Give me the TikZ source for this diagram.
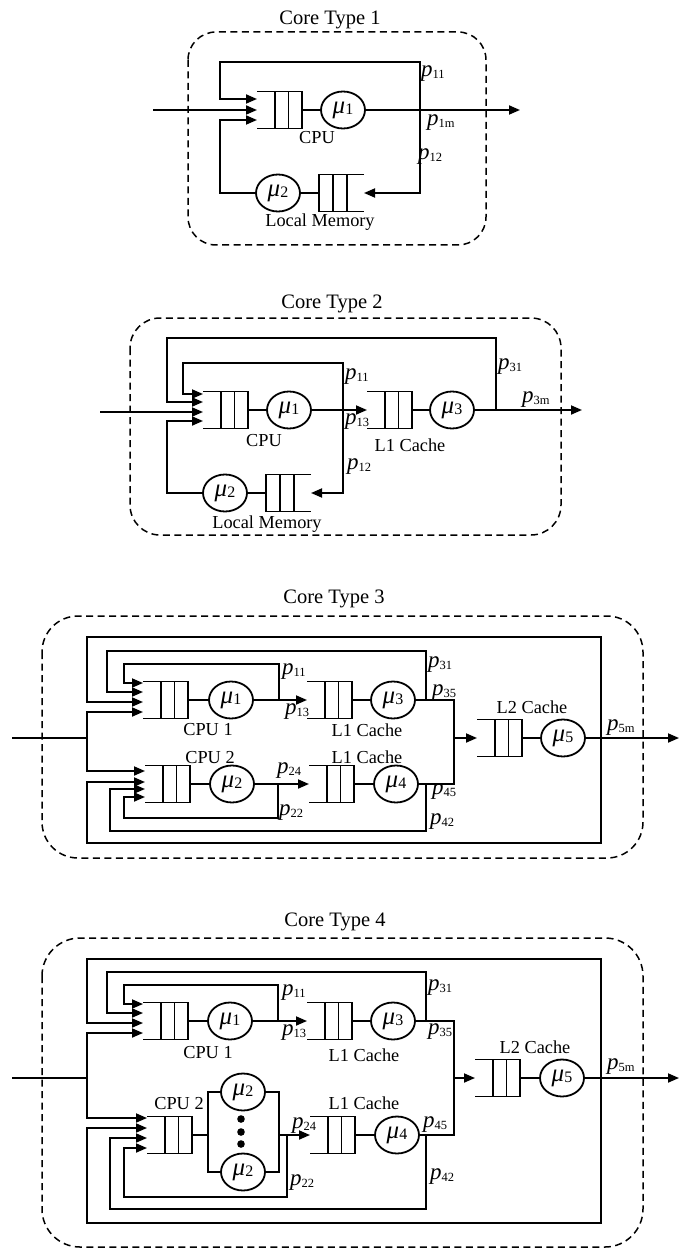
\documentclass[tikz,border=0pt]{standalone}
\usepackage{fontspec}
\setmainfont{Liberation Serif}
\usetikzlibrary{arrows.meta,shapes.geometric,calc}

\newcommand\PLab[1]{{\fontsize{23}{23}\selectfont\textit{p}}\raisebox{-2pt}{\fontsize{12.5}{12.5}\selectfont #1}}
\newcommand\MuLab[1]{{\fontsize{25}{25}\selectfont\textit{μ}}\raisebox{-1pt}{\fontsize{16}{16}\selectfont #1}}

% queue open on the left, closed on the right: name, left x, centre y
\newcommand\QueueOL[3]{%
  \node[qbox] (#1) at (#2+22.5,#3) {};
  \draw[qline] (#1.north west) -- (#1.north east) -- (#1.south east) -- (#1.south west);
  \draw[qline] ([xshift=-13.5pt]#1.north east) -- ([xshift=-13.5pt]#1.south east);
  \draw[qline] ([xshift=-27pt]#1.north east) -- ([xshift=-27pt]#1.south east);
}
% queue open on the right, closed on the left
\newcommand\QueueOR[3]{%
  \node[qbox] (#1) at (#2+22.5,#3) {};
  \draw[qline] (#1.north east) -- (#1.north west) -- (#1.south west) -- (#1.south east);
  \draw[qline] ([xshift=14pt]#1.north west) -- ([xshift=14pt]#1.south west);
  \draw[qline] ([xshift=28pt]#1.north west) -- ([xshift=28pt]#1.south west);
}

\tikzset{
  ln/.style={line width=1.8pt},
  arr/.style={ln, -{Triangle[length=11pt,width=9pt]}},
  qline/.style={line width=1.8pt},
  qbox/.style={inner sep=0pt, outer sep=0pt, minimum width=45pt, minimum height=37pt},
  srv/.style={draw, ellipse, line width=1.8pt, minimum width=44pt, minimum height=37pt, inner sep=0pt},
  plab/.style={anchor=west, inner sep=0pt},
  lab/.style={anchor=base, inner sep=0pt, font=\fontsize{18.3}{20}\selectfont},
  ttl/.style={anchor=base, inner sep=0pt, font=\fontsize{20.5}{22}\selectfont},
  dbox/.style={draw, dash pattern=on 7pt off 4.5pt, line width=1.5pt, rounded corners=#1},
  dot/.style={fill=black},
}

\begin{document}
\begin{tikzpicture}[x=1pt,y=-1pt]
\useasboundingbox (0,0) rectangle (679,1249);

%================ Core Type 1 ================
\draw[dbox=28pt] (188,32) rectangle (486,245);
\node[ttl] (t1) at (330,25) {Core Type 1};
\QueueOL{q1a}{257}{110}
\node[srv] (s1a) at (343,110) {\MuLab{1}};
\QueueOR{q1b}{319}{193}
\node[srv] (s1b) at (278,193) {\MuLab{2}};
\coordinate (i1) at (153,110);
\coordinate (o1) at (520,110);
\coordinate (j1) at (420,110);
\draw[ln] (q1a.east) -- (s1a.west);
\draw[arr] (s1a.east) -- (o1);
\draw[arr] (i1) -- (q1a.west);
\draw[arr] (j1) |- (220,62) |- ($(q1a.west)+(0,-11)$);
\draw[arr] (j1) |- (q1b.east);
\draw[ln] (q1b.west) -- (s1b.east);
\draw[arr] (s1b.west) -| (220,150) |- ($(q1a.west)+(0,10)$);
\node[plab] (p1a) at (421,74) {\PLab{11}};
\node[plab] (p1b) at (427,123) {\PLab{1m}};
\node[plab] (p1c) at (418,157) {\PLab{12}};
\node[lab] (c1a) at (317,144) {CPU};
\node[lab] (c1b) at (320,227) {Local Memory};

%================ Core Type 2 ================
\draw[dbox=30pt] (130,318) rectangle (561,535);
\node[ttl] (t2) at (332,308) {Core Type 2};
\QueueOL{q2a}{203}{410}
\node[srv] (s2a) at (289,410) {\MuLab{1}};
\QueueOL{q2c}{367}{410}
\node[srv] (s2c) at (452,410) {\MuLab{3}};
\QueueOR{q2b}{266}{493}
\node[srv] (s2b) at (225,493) {\MuLab{2}};
\coordinate (i2) at (100,412);
\coordinate (o2) at (582,410);
\coordinate (j2a) at (343,410);
\coordinate (j2c) at (496,410);
\draw[ln] (q2a.east) -- (s2a.west);
\draw[arr] (s2a.east) -- (q2c.west);
\draw[ln] (q2c.east) -- (s2c.west);
\draw[arr] (s2c.east) -- (o2);
\draw[arr] (i2) -- ($(q2a.west)+(0,2)$);
\draw[arr] (j2a) |- (183,363) |- ($(q2a.west)+(0,-16)$);
\draw[arr] (j2c) |- (167,338) |- ($(q2a.west)+(0,-8)$);
\draw[arr] (j2a) |- (q2b.east);
\draw[ln] (q2b.west) -- (s2b.east);
\draw[arr] (s2b.west) -| (167,460) |- ($(q2a.west)+(0,11)$);
\node[plab] (p2a) at (345,377) {\PLab{11}};
\node[plab] (p2b) at (345,422) {\PLab{13}};
\node[plab] (p2c) at (347,467) {\PLab{12}};
\node[plab] (p2d) at (498,367) {\PLab{31}};
\node[plab] (p2e) at (522,400) {\PLab{3m}};
\node[lab] (c2a) at (264,446) {CPU};
\node[lab] (c2b) at (410,451) {L1 Cache};
\node[lab] (c2c) at (267,528) {Local Memory};

%================ Core Type 3 ================
\draw[dbox=36pt] (42,616) rectangle (643,858);
\node[ttl] (t3) at (334,603) {Core Type 3};
\QueueOL{q3a}{143}{700}
\node[srv] (s3a) at (231,700) {\MuLab{1}};
\QueueOL{q3c}{307}{700}
\node[srv] (s3c) at (393,700) {\MuLab{3}};
\QueueOL{q3b}{145}{784}
\node[srv] (s3b) at (232,784) {\MuLab{2}};
\QueueOL{q3d}{309}{784}
\node[srv] (s3d) at (396,784) {\MuLab{4}};
\QueueOL{q3e}{477}{738}
\node[srv] (s3e) at (563,738) {\MuLab{5}};
\coordinate (i3) at (12,738);
\coordinate (ji3) at (87,738);
\coordinate (o3) at (679,738);
\coordinate (j3a) at (279,700);
\coordinate (j3c) at (426,700);
\coordinate (r3a) at (454,700);
\coordinate (j3b) at (278,784);
\coordinate (j3d) at (426,784);
\coordinate (r3b) at (454,784);
\coordinate (m3) at (454,738);
\coordinate (j3e) at (601,738);
\draw[ln] (q3a.east) -- (s3a.west);
\draw[arr] (s3a.east) -- (q3c.west);
\draw[ln] (q3c.east) -- (s3c.west);
\draw[ln] (q3b.east) -- (s3b.west);
\draw[arr] (s3b.east) -- (q3d.west);
\draw[ln] (q3d.east) -- (s3d.west);
\draw[ln] (s3c.east) -- (r3a) -- (r3b) -- (s3d.east);
\draw[arr] (m3) -- (q3e.west);
\draw[ln] (q3e.east) -- (s3e.west);
\draw[arr] (s3e.east) -- (o3);
\draw[ln] (i3) -- (ji3);
\draw[arr] (j3a) |- (124,664) |- ($(q3a.west)+(0,-17)$);
\draw[arr] (j3c) |- (107,651) |- ($(q3a.west)+(0,-8)$);
\draw[arr] (j3e) |- (87,637) |- ($(q3a.west)+(0,2)$);
\draw[arr] (ji3) |- ($(q3a.west)+(0,12)$);
\draw[arr] (ji3) |- ($(q3b.west)+(0,-13)$);
\draw[arr] (j3e) |- (87,843) |- ($(q3b.west)+(0,-2)$);
\draw[arr] (j3d) |- (110,831) |- ($(q3b.west)+(0,5)$);
\draw[arr] (j3b) |- (124,818) |- ($(q3b.west)+(0,13)$);
\node[plab] (p3a) at (282,672) {\PLab{11}};
\node[plab] (p3b) at (285,712) {\PLab{13}};
\node[plab] (p3c) at (277,771) {\PLab{24}};
\node[plab] (p3d) at (279,813) {\PLab{22}};
\node[plab] (p3e) at (428,665) {\PLab{31}};
\node[plab] (p3f) at (432,693) {\PLab{35}};
\node[plab] (p3g) at (432,792) {\PLab{45}};
\node[plab] (p3h) at (430,822) {\PLab{42}};
\node[plab] (p3i) at (607,728) {\PLab{5m}};
\node[lab] (c3a) at (208,735) {CPU 1};
\node[lab] (c3b) at (210,763) {CPU 2};
\node[lab] (c3c) at (367,736) {L1 Cache};
\node[lab] (c3d) at (367,763) {L1 Cache};
\node[lab] (c3e) at (532,713) {L2 Cache};

%================ Core Type 4 ================
\draw[dbox=38pt] (42,938) rectangle (643,1247);
\node[ttl] (t4) at (335,926) {Core Type 4};
\QueueOL{q4a}{143}{1021}
\node[srv] (s4a) at (230,1021) {\MuLab{1}};
\QueueOL{q4c}{307}{1021}
\node[srv] (s4c) at (393,1021) {\MuLab{3}};
\QueueOL{q4b}{147}{1135}
\node[srv] (s4b1) at (243,1092) {\MuLab{2}};
\node[srv] (s4b2) at (243,1172) {\MuLab{2}};
\QueueOL{q4d}{310}{1135}
\node[srv] (s4d) at (397,1135) {\MuLab{4}};
\QueueOL{q4e}{475}{1078}
\node[srv] (s4e) at (562,1078) {\MuLab{5}};
\fill[dot] (241,1119) circle[radius=3.8pt];
\fill[dot] (241,1132) circle[radius=3.8pt];
\fill[dot] (241,1144) circle[radius=3.8pt];
\coordinate (i4) at (12,1078);
\coordinate (ji4) at (87,1078);
\coordinate (o4) at (679,1078);
\coordinate (j4a) at (278,1021);
\coordinate (j4c) at (426,1021);
\coordinate (r4a) at (454,1021);
\coordinate (pl4) at (208,1135);
\coordinate (pr4) at (279,1135);
\coordinate (j4b) at (287,1135);
\coordinate (j4d) at (426,1135);
\coordinate (r4b) at (454,1135);
\coordinate (m4) at (454,1078);
\coordinate (j4e) at (601,1078);
\draw[ln] (q4a.east) -- (s4a.west);
\draw[arr] (s4a.east) -- (q4c.west);
\draw[ln] (q4c.east) -- (s4c.west);
\draw[ln] (q4b.east) -- (pl4);
\draw[ln] (s4b1.west) -| (pl4) |- (s4b2.west);
\draw[ln] (s4b1.east) -| (pr4) |- (s4b2.east);
\draw[arr] (pr4) -- (q4d.west);
\draw[ln] (q4d.east) -- (s4d.west);
\draw[ln] (s4c.east) -- (r4a) -- (r4b) -- (s4d.east);
\draw[arr] (m4) -- (q4e.west);
\draw[ln] (q4e.east) -- (s4e.west);
\draw[arr] (s4e.east) -- (o4);
\draw[ln] (i4) -- (ji4);
\draw[arr] (j4a) |- (124,985) |- ($(q4a.west)+(0,-17)$);
\draw[arr] (j4c) |- (107,972) |- ($(q4a.west)+(0,-8)$);
\draw[arr] (j4e) |- (87,959) |- ($(q4a.west)+(0,2)$);
\draw[arr] (ji4) |- ($(q4a.west)+(0,12)$);
\draw[arr] (ji4) |- ($(q4b.west)+(0,-17)$);
\draw[arr] (j4e) |- (87,1223) |- ($(q4b.west)+(0,-7)$);
\draw[arr] (j4d) |- (110,1209) |- ($(q4b.west)+(0,3)$);
\draw[arr] (j4b) |- (124,1197) |- ($(q4b.west)+(0,13)$);
\node[plab] (p4a) at (282,993) {\PLab{11}};
\node[plab] (p4b) at (282,1033) {\PLab{13}};
\node[plab] (p4c) at (292,1126) {\PLab{24}};
\node[plab] (p4d) at (290,1183) {\PLab{22}};
\node[plab] (p4e) at (428,988) {\PLab{31}};
\node[plab] (p4f) at (428,1032) {\PLab{35}};
\node[plab] (p4g) at (423,1125) {\PLab{45}};
\node[plab] (p4h) at (430,1177) {\PLab{42}};
\node[plab] (p4i) at (607,1067) {\PLab{5m}};
\node[lab] (c4a) at (208,1058) {CPU 1};
\node[lab] (c4b) at (179,1109) {CPU 2};
\node[lab] (c4c) at (364,1061) {L1 Cache};
\node[lab] (c4d) at (364,1109) {L1 Cache};
\node[lab] (c4e) at (535,1053) {L2 Cache};
\end{tikzpicture}
\end{document}
